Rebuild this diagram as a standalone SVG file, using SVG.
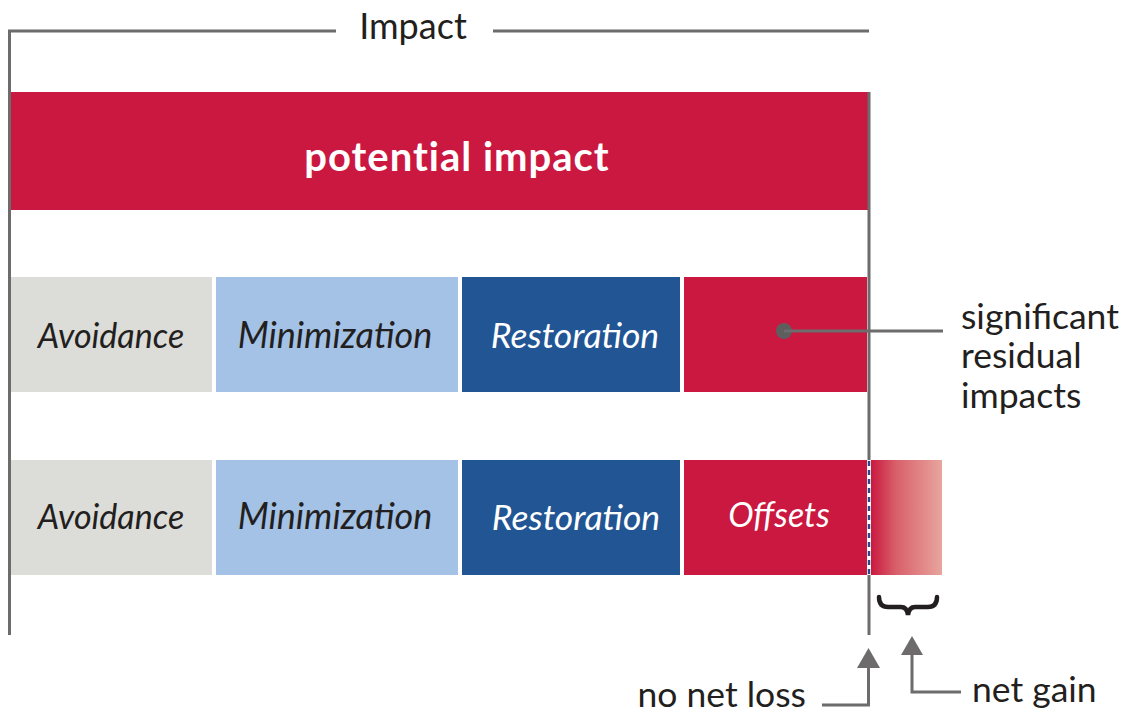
<svg xmlns="http://www.w3.org/2000/svg" width="1121" height="713" viewBox="0 0 1121 713">
  <style>
    .rule { stroke: #6d6b6b; stroke-width: 3; fill: none; }
    .lbl { font-family: Lato, "Open Sans", sans-serif; font-size: 34px; font-style: italic; text-anchor: middle; }
    .note { font-family: Lato, "Open Sans", sans-serif; font-size: 35.5px; fill: #231f20; }
    .red { fill: #cb1840; }
    .grey { fill: #dcdcd8; }
    .lblue { fill: #a4c2e6; }
    .dblue { fill: #215594; }
  </style>
  <defs>
    <linearGradient id="gain" x1="0" y1="0" x2="1" y2="0">
      <stop offset="0" stop-color="#cb1840"/>
      <stop offset="0.35" stop-color="#d8606a"/>
      <stop offset="1" stop-color="#e8a59d"/>
    </linearGradient>
  </defs>

  <!-- impact bracket -->
  <g id="impact-bracket">
    <polyline class="rule" points="336,31 9.5,31 9.5,635"/>
    <line class="rule" x1="493" y1="31" x2="869" y2="31"/>
    <text class="note" x="413" y="39" text-anchor="middle" style="font-size:36px">Impact</text>
  </g>

  <!-- potential impact bar -->
  <g id="potential-impact">
    <rect class="red" x="11" y="92" width="857" height="118"/>
    <text x="457" y="171" text-anchor="middle" fill="#ffffff" font-family="Lato, 'Open Sans', sans-serif" font-weight="bold" font-size="40" letter-spacing="1">potential impact</text>
  </g>

  <!-- row 1 -->
  <g id="row1-avoidance">
    <rect class="grey" x="11" y="277" width="201" height="115"/>
    <text class="lbl" x="111" y="348" fill="#231f20">Avoidance</text>
  </g>
  <g id="row1-minimization">
    <rect class="lblue" x="216" y="277" width="242" height="115"/>
    <text class="lbl" x="335" y="348" fill="#231f20" style="font-size:36px">Minimization</text>
  </g>
  <g id="row1-restoration">
    <rect class="dblue" x="462" y="277" width="218" height="115"/>
    <text class="lbl" x="575" y="348" fill="#ffffff" style="font-size:35.5px">Restoration</text>
  </g>
  <g id="row1-residual">
    <rect class="red" x="684" y="277" width="183" height="115"/>
  </g>

  <!-- row 2 -->
  <g id="row2-avoidance">
    <rect class="grey" x="11" y="460" width="201" height="115"/>
    <text class="lbl" x="111" y="529" fill="#231f20">Avoidance</text>
  </g>
  <g id="row2-minimization">
    <rect class="lblue" x="216" y="460" width="242" height="115"/>
    <text class="lbl" x="335" y="529" fill="#231f20" style="font-size:36px">Minimization</text>
  </g>
  <g id="row2-restoration">
    <rect class="dblue" x="462" y="460" width="218" height="115"/>
    <text class="lbl" x="576" y="530" fill="#ffffff" style="font-size:35.5px">Restoration</text>
  </g>
  <g id="row2-offsets">
    <rect class="red" x="684" y="460" width="183" height="115"/>
    <text class="lbl" x="779" y="527" fill="#ffffff">Offsets</text>
  </g>
  <g id="net-gain-band">
    <rect x="871" y="460" width="71" height="115" fill="url(#gain)"/>
  </g>

  <!-- connectors and guides -->
  <g id="connectors">
    <line class="rule" x1="869" y1="92" x2="869" y2="460"/>
    <line class="rule" x1="869" y1="575" x2="869" y2="635"/>
    <line x1="869" y1="460" x2="869" y2="575" stroke="#ffffff" stroke-width="3"/>
    <line x1="869" y1="461" x2="869" y2="575" stroke="#1f4f8a" stroke-width="2.5" stroke-dasharray="5,4"/>
    <circle cx="784" cy="331" r="8" fill="#5f5e5f"/>
    <line class="rule" x1="784" y1="331" x2="943" y2="331"/>
    <!-- net gain brace -->
    <path d="M879,597 Q879,607 888,607 L901,607 Q907,607 908,615 Q909,607 915,607 L928,607 Q937,607 937,597" fill="none" stroke="#231f20" stroke-width="4.5" stroke-linecap="round"/>
    <!-- no net loss arrow -->
    <polyline class="rule" points="822,705 868.5,705 868.5,666"/>
    <polygon points="868.5,648 857,668 880,668" fill="#6d6b6b"/>
    <!-- net gain arrow -->
    <polyline class="rule" points="961,692 912,692 912,653"/>
    <polygon points="912,636 901,655 923,655" fill="#6d6b6b"/>
  </g>

  <!-- annotations -->
  <g id="notes">
    <text class="note" x="961" y="329">significant</text>
    <text class="note" x="961" y="368">residual</text>
    <text class="note" x="961" y="408">impacts</text>
    <text class="note" x="806" y="707" text-anchor="end">no net loss</text>
    <text class="note" x="972" y="702">net gain</text>
  </g>
</svg>
